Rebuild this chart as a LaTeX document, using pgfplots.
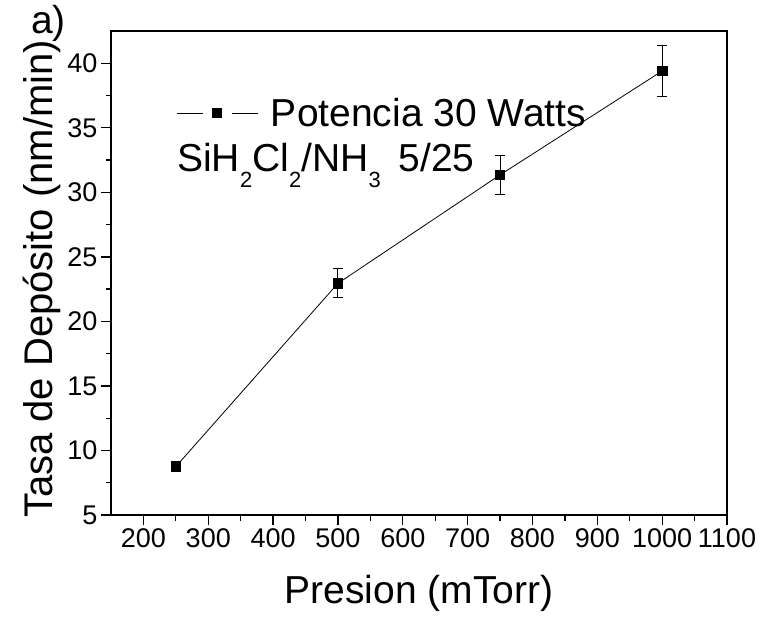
\documentclass[border=0pt]{standalone}
\usepackage{pgfplots}
\pgfplotsset{compat=1.18}
\usepackage{fontspec}
\setmainfont{Liberation Sans}
\newcommand\sub[1]{\raisebox{-16pt}{\fontsize{22}{22}\selectfont #1}}
\begin{document}
\begin{tikzpicture}
\begin{axis}[
  name=ax,
  scale only axis, width=616pt, height=484pt,
  xmin=150, xmax=1100, ymin=5, ymax=42.5,
  xtick={200,300,...,1100}, ytick={5,10,...,40},
  minor x tick num=1, minor y tick num=1,
  tick align=outside, tick pos=left,
  major tick length=10pt, minor tick length=5.5pt,
  axis line style={line width=1.5pt},
  major tick style={line width=1.3pt, black},
  minor tick style={line width=1.3pt, black},
  tick label style={font=\fontsize{27}{27}\selectfont},
  /pgf/number format/assume math mode=true,
  /pgf/number format/1000 sep={},
  legend style={at={(rel axis cs:0.1055,0.8306)}, anchor=west, draw=none, fill=none,
    inner sep=0pt, font=\fontsize{39}{39}\selectfont,
    /tikz/every odd column/.append style={column sep=11pt}},
  legend cell align=left,
  legend image code/.code={
    \draw[#1, mark=none] (0pt,0pt)--(26pt,0pt);
    \draw[#1, mark=none] (55pt,0pt)--(81pt,0pt);
    \draw[#1, only marks] plot coordinates {(40.5pt,0pt)};
  },
]
\addplot[black, line width=0.8pt, mark=square*, mark size=4.8pt, mark options={solid},
  error bars/.cd, y dir=both, y explicit,
  error bar style={line width=0.9pt},
  error mark options={rotate=90, mark size=5pt, line width=0.9pt}]
  table[x=x, y=y, y error=e] {
x y e
250 8.75 0.3
500 22.95 1.13
750 31.35 1.5
1000 39.4 1.95
};
\addlegendentry{Potencia 30 Watts}
\end{axis}
\node[anchor=base, font=\fontsize{39}{39}\selectfont] at ([yshift=-88pt]ax.south) {Presion (mTorr)};
\node[anchor=base, rotate=90, font=\fontsize{40}{40}\selectfont] at ([xshift=-58pt, yshift=-6pt]ax.west) {Tasa de Depósito (nm/min)};
\node[anchor=base west, inner sep=0pt, font=\fontsize{39}{39}\selectfont] at ([xshift=-80pt, yshift=-3pt]ax.north west) {a)};
\node[anchor=base west, inner sep=0pt, font=\fontsize{39}{39}\selectfont] at ([xshift=66pt, yshift=-141pt]ax.north west) {SiH\sub{2}Cl\sub{2}/NH\sub{3}\hspace{18pt}5/25};
\path ([xshift=-111pt,yshift=-106pt]ax.south west) rectangle ([xshift=33pt,yshift=31pt]ax.north east);
\end{tikzpicture}
\end{document}
